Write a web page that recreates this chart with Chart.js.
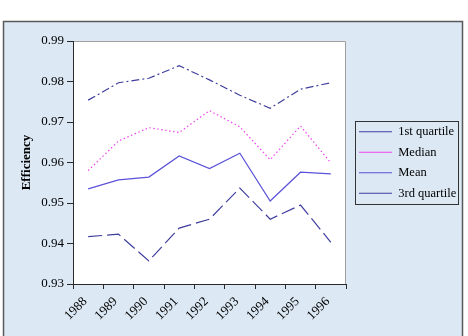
<!DOCTYPE html>
<html>
<head>
<meta charset="utf-8">
<script src="https://cdn.jsdelivr.net/npm/chart.js@4/dist/chart.umd.min.js"></script>
<style>
  html, body { margin: 0; padding: 0; background: #fff; }
  #wrap { width: 468px; height: 336px; }
</style>
</head>
<body>
<div id="wrap"><canvas id="chart" width="468" height="336"></canvas></div>
<script>
  // Datos
  const years = ['1988', '1989', '1990', '1991', '1992', '1993', '1994', '1995', '1996'];
  const firstQuartile = [0.9417, 0.9423, 0.9357, 0.9438, 0.9460, 0.9537, 0.9460, 0.9495, 0.9403];
  const median        = [0.9580, 0.9653, 0.9686, 0.9674, 0.9728, 0.9688, 0.9607, 0.9690, 0.9599];
  const mean          = [0.9535, 0.9557, 0.9564, 0.9616, 0.9585, 0.9623, 0.9505, 0.9576, 0.9572];
  const thirdQuartile = [0.9754, 0.9797, 0.9808, 0.9839, 0.9804, 0.9766, 0.9734, 0.9781, 0.9797];
  const yTicks = [0.93, 0.94, 0.95, 0.96, 0.97, 0.98, 0.99];

  Chart.defaults.font.family = "'Liberation Serif', 'Times New Roman', serif";
  Chart.defaults.font.size = 12;
  Chart.defaults.color = '#000';

  const axisColor = '#2a2a2a';

  // Fondo del marco y del área de trazado
  const backdrop = {
    id: 'backdrop',
    beforeDraw(chart) {
      const { ctx, chartArea: a } = chart;
      ctx.save();
      ctx.fillStyle = '#dce8f4';
      ctx.fillRect(3, 21, 460, 320);
      ctx.strokeStyle = '#5a5a5a';
      ctx.lineWidth = 1.5;
      ctx.strokeRect(3.5, 21.5, 459, 320);
      ctx.fillStyle = '#fff';
      ctx.fillRect(a.left, a.top, a.right - a.left, a.bottom - a.top);
      ctx.strokeStyle = '#a0a0a0';
      ctx.lineWidth = 1;
      ctx.beginPath();
      ctx.moveTo(a.left, a.top + 0.5);
      ctx.lineTo(a.right - 0.5, a.top + 0.5);
      ctx.lineTo(a.right - 0.5, a.bottom);
      ctx.stroke();
      ctx.restore();
    },
    afterLayout(chart) {
      // separar la leyenda del área de trazado
      const lg = chart.legend;
      const dx = chart.chartArea.right + 5 - lg.left;
      lg.left += dx;
      lg.right += dx;
    },
    afterDraw(chart) {
      const boxes = chart.legend.legendHitBoxes;
      if (!boxes || !boxes.length) return;
      const first = boxes[0], last = boxes[boxes.length - 1];
      const { ctx } = chart;
      ctx.save();
      ctx.strokeStyle = '#333';
      ctx.lineWidth = 1;
      const l = Math.round(first.left - 4) + 0.5;
      const t = Math.round(first.top - 5) + 0.5;
      const b = Math.round(last.top + last.height + 4) + 0.5;
      ctx.strokeRect(l, t, 103, b - t);
      ctx.restore();
    }
  };

  const line = (label, data, color, dash) => ({
    label, data,
    borderColor: color,
    backgroundColor: color,
    borderWidth: 1.2,
    borderDash: dash,
    pointRadius: 0,
    tension: 0,
    fill: false
  });

  new Chart(document.getElementById('chart').getContext('2d'), {
    type: 'line',
    data: {
      labels: years,
      datasets: [
        line('1st quartile', firstQuartile, '#3f3f9e', [14, 5]),
        line('Median', median, '#ee44ee', [1.5, 2.5]),
        line('Mean', mean, '#5a52d8', []),
        line('3rd quartile', thirdQuartile, '#3f3f9e', [8, 3, 2, 3])
      ]
    },
    options: {
      responsive: false,
      animation: false,
      layout: { padding: { left: 4, top: 41, right: 8, bottom: 8 } },
      plugins: {
        tooltip: { enabled: false },
        legend: {
          position: 'right',
          fullSize: false,
          labels: {
            usePointStyle: true,
            pointStyle: 'line',
            pointStyleWidth: 33,
            boxHeight: 12,
            padding: 8,
            color: '#000',
            font: { size: 12.5 }
          }
        }
      },
      scales: {
        x: {
          offset: true,
          grid: { offset: true, drawOnChartArea: false, tickLength: 5, color: axisColor },
          border: { color: axisColor, width: 1 },
          ticks: { minRotation: 45, maxRotation: 45, padding: 5, labelOffset: -3, font: { size: 13 } },
          afterFit: (s) => { s.height = 44; }
        },
        y: {
          min: yTicks[0],
          max: yTicks[yTicks.length - 1],
          afterBuildTicks: (s) => { s.ticks = yTicks.map(v => ({ value: v })); },
          grid: { drawOnChartArea: false, tickLength: 6, color: axisColor },
          border: { color: axisColor, width: 1 },
          ticks: { padding: 3, font: { size: 13 }, callback: (v) => Number(v).toFixed(2) },
          title: { display: true, text: 'Efficiency', font: { size: 13, weight: 'bold' }, padding: { top: 15, bottom: 0 } },
          afterFit: (s) => { s.width = 69; }
        }
      }
    },
    plugins: [backdrop]
  });
</script>
</body>
</html>
